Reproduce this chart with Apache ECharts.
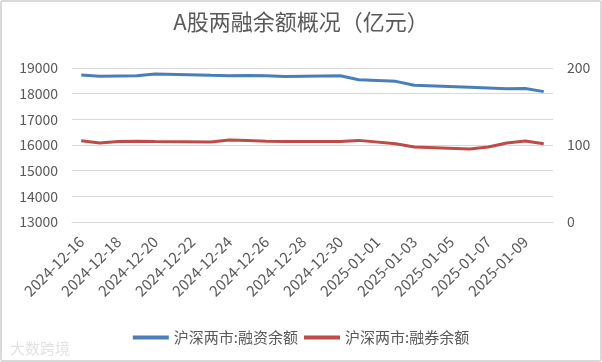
<!DOCTYPE html>
<html>
<head>
<meta charset="utf-8">
<script src="https://cdn.jsdelivr.net/npm/echarts@6/dist/echarts.min.js"></script>
<style>
html,body{margin:0;padding:0;background:#fff;}
#wrap{position:absolute;left:0;top:0;width:598px;height:358px;border:2px solid #d9d9d9;border-radius:3px;}
#c{width:598px;height:358px;}
</style>
</head>
<body>
<div id="wrap"><div id="c"></div></div>
<script>
// Calendar days shown on the date axis
const days = ['2024-12-16','2024-12-17','2024-12-18','2024-12-19','2024-12-20','2024-12-21','2024-12-22',
  '2024-12-23','2024-12-24','2024-12-25','2024-12-26','2024-12-27','2024-12-28','2024-12-29',
  '2024-12-30','2024-12-31','2025-01-01','2025-01-02','2025-01-03','2025-01-04','2025-01-05',
  '2025-01-06','2025-01-07','2025-01-08','2025-01-09','2025-01-10'];
// Trading days with data
const tradeDates = ['2024-12-16','2024-12-17','2024-12-18','2024-12-19','2024-12-20',
  '2024-12-23','2024-12-24','2024-12-25','2024-12-26','2024-12-27',
  '2024-12-30','2024-12-31','2025-01-02','2025-01-03',
  '2025-01-06','2025-01-07','2025-01-08','2025-01-09','2025-01-10'];
// 沪深两市:融资余额 (亿元)
const financing = [18730,18680,18690,18700,18770,18715,18700,18710,18700,18665,18700,18545,18480,18330,18250,18220,18190,18200,18080];
// 沪深两市:融券余额 (亿元)
const lending = [105.6,102.6,104.7,105.0,104.7,104.0,106.5,106.0,105.0,104.7,104.7,106.0,101.7,97.4,94.8,97.4,102.6,105.2,101.7];

function expand(vals){
  const m = {};
  tradeDates.forEach((d,i)=>{m[d]=vals[i];});
  return days.map(d => (d in m) ? m[d] : null);
}

const textColor = '#595959';
const font = '"Noto Sans CJK SC", "Noto Sans", sans-serif';
const chart = echarts.init(document.getElementById('c'));
chart.setOption({
  animation:false,
  textStyle:{fontFamily:font},
  title:{text:'A股两融余额概况（亿元）',left:'center',top:4,
    textStyle:{fontSize:22,fontWeight:'normal',color:textColor,fontFamily:font}},
  grid:{left:70,right:47,top:66,bottom:138},
  legend:{bottom:10,left:'center',itemWidth:36,itemHeight:4,itemGap:6,icon:'rect',
    textStyle:{fontSize:15,color:textColor,fontFamily:font},
    data:['沪深两市:融资余额','沪深两市:融券余额']},
  graphic:[{type:'text',left:8,bottom:4,style:{text:'大数跨境',fill:'#e2e2e2',font:'15px "Noto Sans CJK SC"'}}],
  xAxis:{type:'category',data:days,boundaryGap:true,
    axisLine:{lineStyle:{color:'#d9d9d9'}},
    axisTick:{interval:1,length:5,lineStyle:{color:'#d9d9d9'}},
    axisLabel:{interval:1,rotate:45,color:textColor,fontSize:15,margin:17,fontFamily:font}},
  yAxis:[
    {type:'value',min:13000,max:19000,interval:1000,
      axisLine:{show:false},axisTick:{show:false},
      splitLine:{lineStyle:{color:'#d9d9d9'}},
      axisLabel:{color:textColor,fontSize:14,margin:14,fontFamily:font,formatter:v=>String(v)}},
    {type:'value',min:0,max:200,interval:100,
      axisLine:{show:false},axisTick:{show:false},splitLine:{show:false},
      axisLabel:{color:textColor,fontSize:14,margin:14,fontFamily:font}}
  ],
  series:[
    {name:'沪深两市:融资余额',type:'line',yAxisIndex:0,data:expand(financing),connectNulls:true,
      showSymbol:false,symbol:'none',lineStyle:{width:3,color:'#4a7ebb'},itemStyle:{color:'#4a7ebb'}},
    {name:'沪深两市:融券余额',type:'line',yAxisIndex:1,data:expand(lending),connectNulls:true,
      showSymbol:false,symbol:'none',lineStyle:{width:3,color:'#be4b48'},itemStyle:{color:'#be4b48'}}
  ]
});
</script>
</body>
</html>
